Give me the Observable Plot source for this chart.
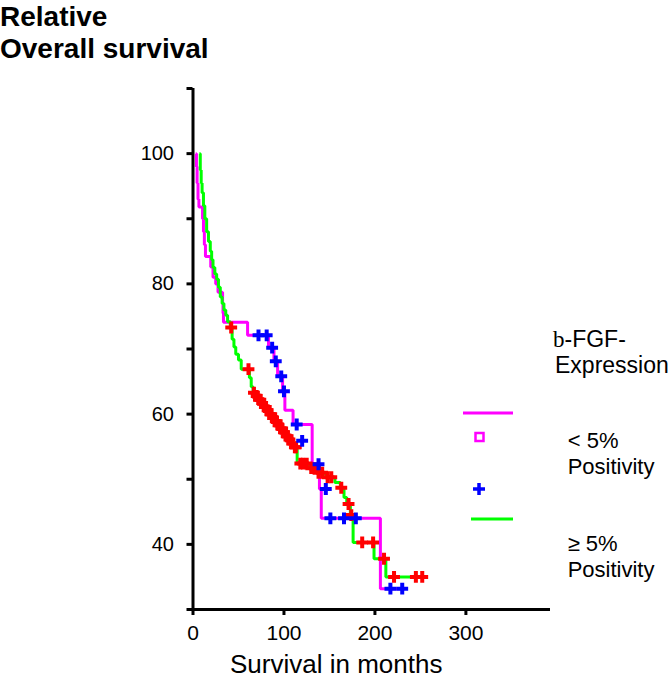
<!DOCTYPE html>
<html>
<head>
<meta charset="utf-8">
<script src="https://cdn.jsdelivr.net/npm/d3@7"></script>
<script src="https://cdn.jsdelivr.net/npm/@observablehq/plot@0.6"></script>
<style>
  html, body { margin: 0; padding: 0; background: #fff; }
  #chart { width: 669px; height: 680px; }
</style>
</head>
<body>
<div id="chart"></div>
<script>
// ---- Data ----
// < 5% positivity group (magenta step curve)
const lowTimes = [3,3.8,4.5,5.5,6.5,10.5,11.5,12.5,13.7,19.5,22,25,27.5,32.5,33,33.5,60,83,89,93,98.5,101,110,131,139,141,206,233];
const lowSurv  = [100,98,95.5,93,91.8,90,88,86,84.2,82.6,81,80,78.7,77,75.5,74.1,72.1,70.2,68.1,65.8,63.5,60.6,58.4,52.3,48.5,44.0,33.2,33.2];
// >= 5% positivity group (green step curve)
const highTimes = [7,8,9,10,11.5,13,15,17,19,20.5,22,24,26,28,30,32,34,36,38,41,43,45,47,50,53,62,64,66,69,72,75,78,81,84,87,90,93,96,99,102,105,108,111,114.5,128,137,146,156,162,166,169,173,176,199,212,256];
const highSurv  = [100,97.5,95.5,94,92,90,88,86.5,85,83.7,82.5,81.5,80.7,79.5,78,77,76,75.2,74.2,73.3,71.5,70.3,69.2,68.3,66.9,65.6,64.2,63.3,62.8,62.2,61.7,61.1,60.6,60.0,59.4,58.9,58.3,57.8,57.2,56.6,56.1,55.5,54.9,52.4,51.7,51.0,50.3,49.5,48.7,47.2,46.2,44.5,40.3,37.8,35.0,35.0];
// censored observations, < 5% group (blue +)
const lowCensT = [72,81,87,91,97,100,114,120,138,146,151,166,179,217,230];
const lowCensS = [72.1,72.1,70.2,68.1,65.8,63.5,58.4,55.9,52.3,48.5,44.0,44.0,44.0,33.2,33.2];
// censored observations, >= 5% group (red +)
const highCensT = [42,61,67,70,72.5,74,76,79,80,82,85,86,88,91,92,94,97,98,100,103,104,106,109,112,113,118,121,125,130,134,138,142,148,152,163,171,174,186,198,210,221,245,252];
const highCensS = [73.3,66.9,63.3,62.8,62.2,62.2,61.7,61.1,61.1,60.6,60.0,60.0,59.4,58.9,58.9,58.3,57.8,57.8,57.2,56.6,56.6,56.1,55.5,54.9,54.9,52.4,52.4,52.4,51.7,51.7,51.0,51.0,50.3,50.3,48.7,46.2,44.5,40.3,40.3,37.8,35.0,35.0,35.0];
// axes
const xTicks = [0,100,200,300];
const yTicks = [30,40,50,60,70,80,90,100,110];
const yTickLabels = [40,60,80,100];

const zip = (ts, ss) => ts.map((t, i) => ({t, s: ss[i]}));
const low = zip(lowTimes, lowSurv);
const high = zip(highTimes, highSurv);
const lowCens = zip(lowCensT, lowCensS);
const highCens = zip(highCensT, highCensS);

const MAG = "#ff00ff", GRN = "#00ff00", BLU = "#0000ff", RED = "#ff0000";

const svg = Plot.plot({
  width: 669,
  height: 680,
  marginLeft: 192.5,
  marginRight: 119,
  marginTop: 88,
  marginBottom: 71,
  style: {fontFamily: "'Liberation Sans', Arial, sans-serif", fontSize: "20px", color: "#000", background: "#fff"},
  x: {domain: [0, 393], axis: null},
  y: {domain: [30, 110], axis: null},
  marks: [
    Plot.axisX({ticks: xTicks, tickSize: 6, tickPadding: 10, strokeWidth: 3, fontSize: 21, label: null}),
    Plot.axisY({ticks: yTicks, tickSize: 6, tickPadding: 13, strokeWidth: 3, fontSize: 20,
                tickFormat: d => yTickLabels.includes(d) ? String(d) : "", label: null}),
    Plot.line(low, {x: "t", y: "s", curve: "step-after", stroke: MAG, strokeWidth: 3, strokeLinejoin: "miter", strokeLinecap: "butt"}),
    Plot.line(high, {x: "t", y: "s", curve: "step-after", stroke: GRN, strokeWidth: 3, strokeLinejoin: "miter", strokeLinecap: "butt"}),
    Plot.dot(highCens, {x: "t", y: "s", symbol: "plus", r: 3.9, stroke: RED, strokeWidth: 4}),
    Plot.dot(lowCens, {x: "t", y: "s", symbol: "plus", r: 3.9, stroke: BLU, strokeWidth: 4}),
    Plot.ruleX([0], {strokeWidth: 3}),
    Plot.ruleY([30], {strokeWidth: 3})
  ]
});

const s = d3.select(svg);
const font = "'Liberation Sans', Arial, sans-serif";
function txt(x, y, str, size, weight) {
  return s.append("text").attr("x", x).attr("y", y)
    .attr("text-anchor", "start")
    .attr("font-family", font).attr("font-size", size)
    .attr("font-weight", weight || "normal").attr("fill", "#000").text(str);
}
// Title
txt(0, 26, "Relative", 28, "bold");
txt(0, 58, "Overall survival", 28, "bold");
// X axis label
txt(230, 673, "Survival in months", 26);

// Legend
const bf = s.append("text").attr("x", 553).attr("y", 347).attr("text-anchor", "start")
  .attr("font-family", font).attr("font-size", 23).attr("fill", "#000");
bf.append("tspan").attr("font-family", "'Liberation Serif', 'Times New Roman', serif").text("b");
bf.append("tspan").text("-FGF-");
txt(555, 373, "Expression", 23);
s.append("line").attr("x1", 463).attr("x2", 513).attr("y1", 413).attr("y2", 413)
  .attr("stroke", MAG).attr("stroke-width", 3);
s.append("rect").attr("x", 475.5).attr("y", 433).attr("width", 8).attr("height", 8)
  .attr("fill", "#fff").attr("stroke", MAG).attr("stroke-width", 2.5);
s.append("path").attr("d", "M473,489H485M479,483V495")
  .attr("stroke", BLU).attr("stroke-width", 3.5).attr("fill", "none");
s.append("line").attr("x1", 471).attr("x2", 513).attr("y1", 519).attr("y2", 519)
  .attr("stroke", GRN).attr("stroke-width", 3);
txt(567.7, 448, "< 5%", 22);
txt(567.7, 474, "Positivity", 22);
txt(567.7, 551, "\u2265 5%", 22);
txt(567.7, 577, "Positivity", 22);

document.getElementById("chart").appendChild(svg);
</script>
</body>
</html>
